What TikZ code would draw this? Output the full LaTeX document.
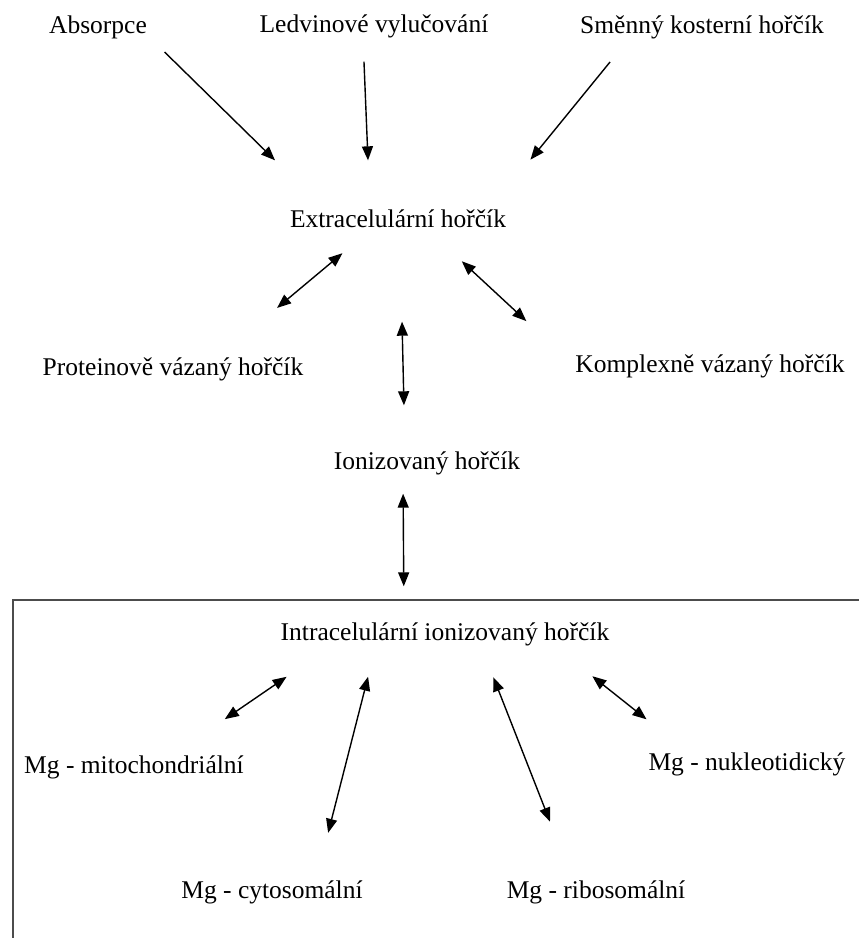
\documentclass[tikz,border=0pt]{standalone}
\usepackage{fontspec}
\setmainfont{Liberation Serif}
\usetikzlibrary{arrows.meta}

\begin{document}
\begin{tikzpicture}[->,>={Triangle[length=14pt,width=11pt]},x=1pt,y=-1pt,
        line width=1.4pt,
        txt/.style={anchor=base,inner sep=0pt,text height=17pt,text depth=5pt,
            font=\fontsize{25.5}{30}\selectfont},
        boxline/.style={-,line width=2pt,draw=black!70}]

    \useasboundingbox (0,0) rectangle (859,938);

    \node[txt] (absorpce) at (98,33) {Absorpce};
    \node[txt] (ledviny) at (374,32) {Ledvinové vylučování};
    \node[txt] (kost) at (702,33) {Směnný kosterní hořčík};
    \node[txt] (extra) at (398,227) {Extracelulární hořčík};
    \node[txt] (protein) at (173,375) {Proteinově vázaný hořčík};
    \node[txt] (komplex) at (710,372) {Komplexně vázaný hořčík};
    \node[txt] (ion) at (427,469) {Ionizovaný hořčík};
    \node[txt] (intra) at (445,640) {Intracelulární ionizovaný hořčík};
    \node[txt] (mito) at (134,773) {Mg - mitochondriální};
    \node[txt] (nukleo) at (747,770) {Mg - nukleotidický};
    \node[txt] (cyto) at (272,898) {Mg - cytosomální};
    \node[txt] (ribo) at (596,898) {Mg - ribosomální};

    % intracellular frame
    \draw[boxline] (13,938) -- (13,600) -- (859,600);

    \path ([xshift=53pt]absorpce.south) edge[shorten <=19pt,shorten >=70pt] ([xshift=-73pt]extra.north)
        ([xshift=-11pt]ledviny.south) edge[shorten <=24pt,shorten >=49pt] ([xshift=-28pt]extra.north)
        ([xshift=-73pt]kost.south) edge[shorten <=30pt,shorten >=64pt] ([xshift=92pt]extra.north)
        ([xshift=-31pt]extra.south) edge[<->,shorten <=32pt,shorten >=77pt] ([xshift=45pt]protein.north)
        ([xshift=33pt]extra.south) edge[<->,shorten <=42pt,shorten >=66pt] (komplex.west)
        ([xshift=2pt]extra.south) edge[<->,shorten <=89pt,shorten >=46pt] ([xshift=-22pt]ion.north)
        ([xshift=-24pt]ion.south) edge[<->,shorten <=19pt,shorten >=36pt] ([xshift=-41pt]intra.north)
        ([xshift=-113pt]intra.south) edge[<->,shorten <=55pt,shorten >=64pt] ([xshift=38pt]mito.north)
        ([xshift=-69pt]intra.south) edge[<->,shorten <=32pt,shorten >=49pt] ([xshift=44pt]cyto.north)
        ([xshift=36pt]intra.south) edge[<->,shorten <=34pt,shorten >=63pt] ([xshift=-23pt]ribo.north)
        ([xshift=109pt]intra.south) edge[<->,shorten <=49pt,shorten >=53pt] ([xshift=-59pt]nukleo.north);

\end{tikzpicture}
\end{document}
